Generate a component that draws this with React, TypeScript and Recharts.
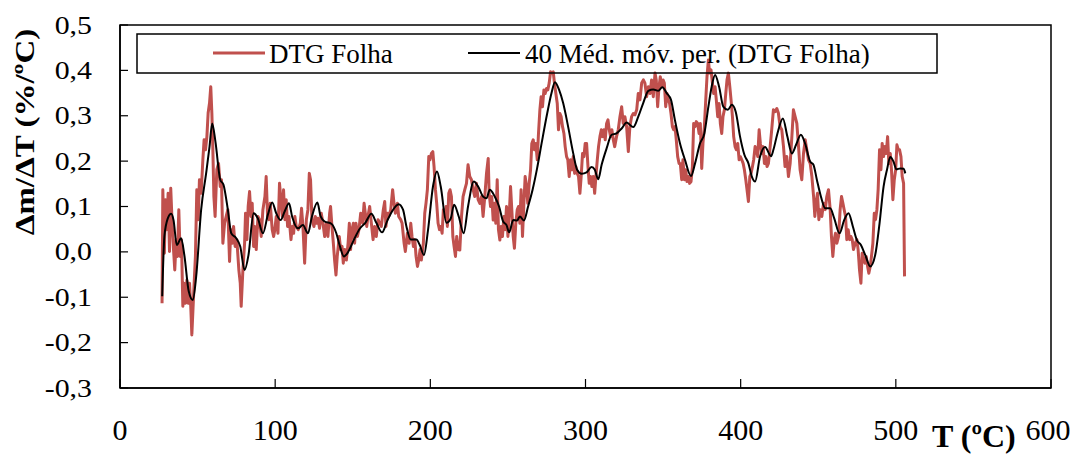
import React from 'react';
import { LineChart, Line, XAxis, YAxis, ReferenceArea } from 'recharts';

// Axis ticks
const xTicks = [0, 100, 200, 300, 400, 500, 600];
const yTicks = [-0.3, -0.2, -0.1, 0, 0.1, 0.2, 0.3, 0.4, 0.5];

// Series names
const seriesNames = ['DTG Folha', '40 Méd. móv. per. (DTG Folha)'];

// DTG of the leaf sample: [T (ºC), Δm/ΔT (%/ºC)]
const dtgFolha: number[][] = [
  [27.1, -0.113], [27.6, 0.137], [28.6, -0.003], [29.3, 0.115], [30.2, 0.049], [31.0, 0.129],
  [31.9, 0.001], [32.7, 0.14], [33.6, 0.063], [34.5, 0.005], [35.3, -0.04], [36.2, 0.027],
  [37.0, -0.01], [37.9, 0.093], [38.8, -0.01], [39.6, 0.027], [40.5, -0.12], [41.3, -0.069],
  [42.2, -0.113], [43.1, -0.062], [43.9, -0.113], [44.8, -0.069], [45.6, -0.12], [46.3, -0.183],
  [47.4, -0.098], [48.6, -0.01], [49.5, 0.137], [50.4, 0.071], [51.2, 0.159], [52.3, 0.129],
  [53.4, 0.203], [54.2, 0.247], [55.1, 0.225], [56.0, 0.254], [56.8, 0.306], [57.7, 0.328],
  [58.5, 0.364], [59.2, 0.306], [59.8, 0.232], [60.5, 0.122], [61.3, 0.078], [62.4, 0.181],
  [63.5, 0.195], [64.6, 0.144], [65.4, 0.159], [66.3, 0.019], [67.4, 0.063], [68.4, 0.078],
  [69.5, 0.093], [70.6, -0.021], [71.4, 0.049], [72.3, 0.019], [73.2, 0.056], [74.2, 0.012],
  [75.3, 0.027], [76.6, -0.04], [77.5, -0.069], [78.1, -0.12], [79.2, -0.04], [80.3, 0.019],
  [80.9, 0.085], [81.8, 0.027], [82.6, 0.1], [83.5, 0.133], [84.4, 0.078], [85.2, 0.107],
  [86.1, 0.012], [86.9, 0.056], [87.8, 0.005], [88.9, 0.078], [89.9, 0.071], [91.0, 0.034],
  [92.1, 0.093], [93.4, 0.122], [94.2, 0.166], [95.1, 0.078], [96.0, 0.071], [96.8, 0.107],
  [98.1, 0.049], [99.0, 0.034], [99.8, 0.049], [100.7, 0.078], [101.8, 0.041], [102.8, 0.151],
  [103.7, 0.115], [104.6, 0.078], [105.4, 0.137], [106.3, 0.071], [107.1, 0.115], [108.0, 0.056],
  [108.9, 0.078], [110.2, 0.027], [111.0, 0.056], [111.9, 0.041], [112.7, 0.078], [113.6, 0.056],
  [114.9, 0.049], [116.2, 0.063], [117.0, 0.096], [117.9, 0.056], [119.0, -0.025], [120.1, 0.071],
  [121.1, 0.093], [122.0, 0.173], [122.8, 0.159], [123.7, 0.071], [125.0, 0.056], [125.9, 0.078],
  [126.7, 0.063], [127.6, 0.074], [128.6, 0.052], [129.7, 0.085], [130.8, 0.063], [131.9, 0.034],
  [133.0, 0.063], [134.0, 0.034], [135.1, 0.085], [135.7, 0.1], [136.6, 0.056], [137.5, 0.019],
  [138.3, -0.018], [139.2, -0.051], [140.0, -0.01], [141.3, 0.034], [142.2, 0.005], [143.1, 0.012],
  [143.9, -0.025], [144.8, 0.005], [145.9, -0.018], [147.0, 0.019], [147.8, 0.063], [148.6, 0.005],
  [149.5, 0.049], [150.4, 0.063], [151.2, 0.019], [152.1, 0.063], [153.0, 0.034], [154.0, 0.049],
  [155.1, 0.085], [156.4, 0.063], [157.3, 0.107], [158.1, 0.085], [159.0, 0.056], [159.8, 0.078],
  [160.9, 0.1], [162.0, 0.063], [163.1, 0.027], [164.1, 0.056], [165.2, 0.034], [166.3, 0.071],
  [167.4, 0.063], [168.4, 0.056], [169.7, 0.093], [170.6, 0.111], [171.4, 0.056], [172.3, 0.085],
  [173.2, 0.078], [174.5, 0.093], [175.7, 0.137], [176.6, 0.107], [177.5, 0.085], [178.8, 0.107],
  [179.6, 0.078], [180.9, 0.071], [181.8, 0.063], [183.1, 0.019], [183.9, 0.001], [185.2, 0.041],
  [186.3, 0.019], [187.4, 0.063], [188.2, 0.034], [189.1, 0.012], [190.0, 0.027], [190.8, -0.01],
  [191.7, -0.032], [192.5, -0.018], [193.4, 0.005], [194.2, -0.018], [195.5, 0.019], [196.4, 0.085],
  [197.2, 0.107], [198.1, 0.137], [199.0, 0.21], [199.8, 0.203], [200.7, 0.217], [201.6, 0.221],
  [202.4, 0.188], [203.3, 0.137], [204.1, 0.107], [205.0, 0.063], [205.9, 0.049], [206.7, 0.056],
  [207.6, 0.041], [208.4, 0.093], [209.3, 0.078], [210.2, 0.1], [211.0, 0.056], [211.9, 0.129],
  [212.7, 0.137], [213.6, 0.122], [214.5, 0.034], [215.3, 0.012], [216.2, -0.01], [217.0, 0.034],
  [217.9, 0.005], [219.0, 0.004], [220.1, 0.078], [221.1, 0.122], [222.2, 0.137], [223.3, 0.151],
  [224.3, 0.192], [225.4, 0.166], [226.5, 0.159], [227.6, 0.137], [228.6, 0.122], [229.7, 0.151],
  [230.8, 0.115], [231.9, 0.107], [233.0, 0.122], [234.0, 0.078], [235.1, 0.122], [236.2, 0.173],
  [237.3, 0.206], [237.9, 0.129], [238.8, 0.1], [239.6, 0.122], [240.5, 0.07], [241.3, 0.107],
  [242.2, 0.063], [243.1, 0.159], [243.9, 0.049], [244.8, 0.026], [245.6, 0.056], [246.5, 0.034],
  [247.4, 0.078], [248.2, 0.049], [249.1, 0.1], [250.0, 0.034], [250.8, 0.078], [251.7, 0.144],
  [252.5, 0.093], [253.4, 0.034], [254.2, 0.008], [255.1, 0.063], [256.0, 0.093], [256.8, 0.1],
  [257.7, 0.063], [258.5, 0.137], [259.4, 0.034], [260.3, 0.107], [261.1, 0.166], [262.0, 0.144],
  [262.8, 0.107], [263.7, 0.151], [264.6, 0.181], [265.4, 0.239], [266.3, 0.247], [267.1, 0.225],
  [268.0, 0.239], [268.9, 0.203], [269.7, 0.261], [270.6, 0.313], [271.4, 0.342], [272.3, 0.32],
  [273.2, 0.357], [274.0, 0.349], [274.9, 0.36], [275.7, 0.357], [276.6, 0.372], [277.5, 0.397],
  [278.3, 0.394], [279.2, 0.397], [280.0, 0.372], [280.9, 0.349], [281.8, 0.327], [282.6, 0.269],
  [283.5, 0.305], [284.3, 0.298], [285.2, 0.276], [286.1, 0.261], [286.9, 0.232], [287.8, 0.21],
  [288.6, 0.203], [289.5, 0.166], [290.4, 0.203], [291.2, 0.181], [292.1, 0.21], [293.0, 0.173],
  [293.8, 0.188], [294.7, 0.173], [295.5, 0.166], [296.4, 0.129], [297.2, 0.166], [298.1, 0.217],
  [299.0, 0.21], [299.8, 0.239], [300.7, 0.239], [301.6, 0.188], [302.4, 0.151], [303.3, 0.166],
  [304.1, 0.144], [305.0, 0.166], [305.9, 0.129], [306.7, 0.166], [307.6, 0.203], [308.4, 0.232],
  [309.3, 0.254], [310.2, 0.269], [311.0, 0.254], [311.9, 0.269], [312.7, 0.247], [313.6, 0.283],
  [314.5, 0.291], [315.3, 0.269], [316.2, 0.254], [317.0, 0.269], [317.9, 0.247], [318.8, 0.232],
  [320.0, 0.254], [321.1, 0.269], [322.2, 0.298], [323.3, 0.32], [324.3, 0.283], [325.4, 0.298],
  [326.5, 0.276], [327.6, 0.221], [328.6, 0.276], [329.7, 0.298], [330.8, 0.305], [331.9, 0.302],
  [333.0, 0.313], [334.0, 0.349], [335.1, 0.335], [336.2, 0.372], [337.3, 0.379], [338.3, 0.372],
  [339.4, 0.342], [340.5, 0.364], [341.6, 0.349], [342.6, 0.379], [343.7, 0.342], [344.8, 0.394],
  [345.6, 0.379], [346.5, 0.32], [347.4, 0.364], [348.2, 0.386], [349.1, 0.364], [350.0, 0.379],
  [350.8, 0.372], [351.7, 0.32], [352.5, 0.349], [353.4, 0.335], [354.2, 0.327], [355.1, 0.305],
  [356.0, 0.276], [356.8, 0.269], [357.7, 0.276], [358.5, 0.247], [359.4, 0.21], [360.3, 0.195],
  [361.1, 0.195], [362.0, 0.159], [362.8, 0.203], [363.7, 0.159], [364.6, 0.181], [365.4, 0.155],
  [366.3, 0.166], [367.1, 0.151], [368.0, 0.155], [368.9, 0.188], [369.7, 0.283], [370.6, 0.276],
  [371.4, 0.287], [372.3, 0.283], [373.2, 0.261], [374.0, 0.283], [374.9, 0.184], [375.7, 0.239],
  [376.6, 0.276], [377.5, 0.335], [378.3, 0.386], [379.2, 0.423], [380.0, 0.394], [380.9, 0.401],
  [381.8, 0.372], [382.6, 0.349], [383.5, 0.364], [384.3, 0.335], [385.2, 0.298], [386.1, 0.327],
  [386.9, 0.283], [387.8, 0.261], [388.6, 0.298], [389.5, 0.313], [390.4, 0.349], [391.2, 0.379],
  [392.1, 0.394], [393.0, 0.364], [393.8, 0.335], [394.7, 0.298], [395.5, 0.254], [396.4, 0.232],
  [397.2, 0.225], [398.1, 0.239], [399.0, 0.203], [399.8, 0.21], [400.7, 0.203], [401.6, 0.195],
  [402.4, 0.181], [403.3, 0.159], [404.1, 0.137], [405.0, 0.111], [405.9, 0.166], [406.7, 0.173],
  [407.6, 0.188], [408.4, 0.203], [409.3, 0.232], [410.2, 0.225], [411.0, 0.21], [411.9, 0.269],
  [412.7, 0.239], [413.6, 0.217], [414.5, 0.232], [415.3, 0.195], [416.2, 0.21], [417.0, 0.188],
  [417.9, 0.195], [418.8, 0.225], [420.0, 0.269], [421.1, 0.313], [422.2, 0.309], [423.3, 0.316],
  [424.3, 0.306], [425.4, 0.276], [426.5, 0.269], [427.6, 0.232], [428.6, 0.188], [429.7, 0.21],
  [430.8, 0.166], [431.9, 0.195], [433.0, 0.254], [434.0, 0.313], [435.1, 0.298], [436.2, 0.283],
  [437.3, 0.232], [438.3, 0.181], [439.4, 0.159], [440.5, 0.217], [441.6, 0.247], [442.6, 0.225],
  [443.7, 0.203], [444.8, 0.195], [445.9, 0.166], [447.0, 0.122], [447.8, 0.078], [448.6, 0.107],
  [449.5, 0.129], [450.4, 0.071], [451.2, 0.093], [452.3, 0.078], [453.4, 0.107], [454.5, 0.093],
  [455.5, 0.122], [456.6, 0.137], [457.7, 0.093], [458.5, 0.034], [459.4, -0.01], [460.3, 0.027],
  [461.1, 0.041], [462.0, 0.019], [463.1, 0.034], [464.1, 0.093], [465.0, 0.122], [465.9, 0.107],
  [466.7, 0.093], [467.6, 0.078], [468.4, 0.027], [469.3, 0.049], [470.2, 0.027], [471.0, 0.034],
  [471.9, 0.027], [472.7, 0.005], [473.8, 0.019], [474.9, 0.027], [475.7, 0.005], [476.6, -0.04],
  [477.5, -0.069], [478.3, -0.003], [479.2, -0.018], [480.1, -0.025], [480.9, -0.01], [481.8, -0.032],
  [482.6, -0.047], [483.5, -0.032], [484.3, -0.01], [485.2, 0.019], [486.1, 0.085], [486.9, 0.071],
  [487.8, 0.093], [488.6, 0.137], [489.5, 0.225], [490.4, 0.181], [491.2, 0.239], [492.1, 0.21],
  [493.0, 0.232], [493.8, 0.217], [494.7, 0.254], [495.5, 0.195], [496.4, 0.217], [497.2, 0.181],
  [498.1, 0.115], [499.0, 0.159], [499.9, 0.181], [500.7, 0.236], [501.6, 0.225], [502.4, 0.225],
  [503.3, 0.21], [504.1, 0.166], [505.0, 0.151], [505.6, -0.054],
];

// 40-period moving average of the DTG curve: [T (ºC), Δm/ΔT (%/ºC)]
const mediaMovel: number[][] = [
  [27.2, -0.098], [28.6, 0.034], [30.8, 0.074], [33.0, 0.084], [34.5, 0.07], [36.6, 0.015],
  [39.4, 0.03], [41.5, -0.008], [44.3, -0.087], [46.9, -0.106], [49.1, -0.054], [52.3, 0.093],
  [55.5, 0.173], [57.7, 0.232], [59.4, 0.283], [61.5, 0.243], [64.6, 0.159], [66.7, 0.148],
  [69.5, 0.093], [71.7, 0.041], [74.9, 0.03], [77.5, 0.012], [80.3, -0.04], [82.8, -0.007],
  [86.1, 0.085], [88.8, 0.074], [92.1, 0.041], [95.3, 0.082], [98.1, 0.109], [100.7, 0.085],
  [103.5, 0.07], [106.1, 0.089], [108.9, 0.107], [111.0, 0.077], [114.7, 0.052], [117.9, 0.059],
  [121.1, 0.041], [123.7, 0.078], [127.2, 0.109], [129.3, 0.078], [131.9, 0.067], [136.2, 0.062],
  [139.4, 0.041], [141.5, 0.015], [144.3, -0.01], [146.9, -0.001], [150.8, 0.027], [154.5, 0.051],
  [158.1, 0.064], [162.0, 0.084], [165.2, 0.064], [168.9, 0.043], [172.3, 0.069], [175.3, 0.089],
  [179.6, 0.105], [182.4, 0.093], [184.6, 0.056], [187.4, 0.027], [191.0, 0.027], [193.2, 0.015],
  [195.9, -0.007], [198.5, 0.048], [201.7, 0.144], [204.3, 0.177], [206.7, 0.144], [210.4, 0.064],
  [213.2, 0.074], [215.3, 0.104], [218.3, 0.078], [221.5, 0.041], [224.3, 0.1], [228.0, 0.155],
  [230.8, 0.144], [234.0, 0.122], [236.2, 0.118], [238.3, 0.137], [241.5, 0.122], [244.3, 0.1],
  [246.9, 0.067], [249.1, 0.059], [250.8, 0.043], [253.4, 0.07], [255.9, 0.069], [257.7, 0.078],
  [260.3, 0.069], [263.0, 0.1], [265.9, 0.137], [268.8, 0.184], [271.7, 0.239], [275.3, 0.305],
  [278.1, 0.35], [280.3, 0.374], [283.0, 0.357], [285.6, 0.328], [288.8, 0.276], [292.1, 0.217],
  [294.6, 0.181], [297.5, 0.172], [300.7, 0.175], [303.9, 0.187], [306.0, 0.181], [308.2, 0.16],
  [310.4, 0.192], [313.6, 0.228], [316.8, 0.258], [320.0, 0.261], [323.3, 0.272], [326.5, 0.285],
  [330.8, 0.275], [334.0, 0.298], [337.2, 0.328], [340.5, 0.355], [343.7, 0.358], [346.9, 0.355],
  [349.5, 0.363], [352.3, 0.35], [355.1, 0.335], [357.6, 0.291], [360.9, 0.239], [364.1, 0.203],
  [368.0, 0.167], [370.6, 0.195], [373.8, 0.239], [376.6, 0.261], [379.2, 0.32], [381.3, 0.364],
  [383.5, 0.39], [386.1, 0.364], [388.8, 0.32], [391.7, 0.313], [394.3, 0.324], [396.8, 0.309],
  [399.6, 0.254], [402.4, 0.214], [405.0, 0.195], [407.2, 0.166], [409.3, 0.155], [412.5, 0.21],
  [415.7, 0.231], [419.6, 0.211], [421.1, 0.225], [423.7, 0.261], [427.2, 0.294], [430.1, 0.254],
  [433.0, 0.217], [435.7, 0.236], [438.8, 0.258], [441.5, 0.239], [444.8, 0.199], [446.9, 0.192],
  [449.1, 0.159], [451.7, 0.122], [454.5, 0.096], [457.7, 0.096], [460.3, 0.074], [463.7, 0.041],
  [466.7, 0.07], [469.5, 0.085], [472.3, 0.056], [474.9, 0.026], [477.5, 0.015], [480.3, -0.007],
  [483.5, -0.032], [486.7, -0.007], [489.5, 0.063], [492.1, 0.144], [494.3, 0.181], [496.4, 0.209],
  [498.5, 0.199], [500.3, 0.182], [502.8, 0.184], [505.0, 0.183], [506.1, 0.173],
];

const dtgData = dtgFolha.map(([t, v]) => ({ t, v }));
const mmData = mediaMovel.map(([t, v]) => ({ t, v }));

const FONT = '"Liberation Serif", "Times New Roman", Times, serif';
const RED = '#C0504D';

const fmtY = (v: number) => v.toFixed(1).replace('.', ',');

const XTick = (props: any) => {
  const { x, y, payload } = props;
  // the last label sits a little inside the frame edge
  const shift = payload.value === 600 ? -3 : 0;
  return (
    <text x={x + shift} y={y} dy={61} textAnchor="middle" fontFamily={FONT} fontSize={30} fill="#000">
      {payload.value}
    </text>
  );
};

const YTick = (props: any) => {
  const { x, y, payload } = props;
  return (
    <g transform={`translate(${x - 36},${y}) scale(1.15,1)`}>
      <text x={0} y={0} dy={8.5} textAnchor="end" fontFamily={FONT} fontSize={26} fill="#000">
        {fmtY(payload.value)}
      </text>
    </g>
  );
};

export default function App() {
  return (
    <div style={{ position: 'absolute', left: 0, top: 0, width: 1072, height: 454, background: '#fff' }}>
      <LineChart width={1072} height={454} margin={{ top: 25, right: 21, bottom: 0, left: 0 }}>
        <XAxis
          dataKey="t"
          type="number"
          domain={[0, 600]}
          ticks={xTicks}
          allowDataOverflow
          height={66}
          tickSize={-9}
          tickMargin={0}
          tick={<XTick />}
          axisLine={{ stroke: '#000', strokeWidth: 1.5 }}
          tickLine={{ stroke: '#000', strokeWidth: 1.2 }}
        />
        <YAxis
          type="number"
          domain={[-0.3, 0.5]}
          ticks={yTicks}
          allowDataOverflow
          width={120}
          tickSize={-8}
          tickMargin={0}
          tick={<YTick />}
          axisLine={{ stroke: '#000', strokeWidth: 1.5 }}
          tickLine={{ stroke: '#000', strokeWidth: 1.2 }}
        />
        <ReferenceArea
          x1={0}
          x2={600}
          y1={-0.3}
          y2={0.5}
          fill="none"
          fillOpacity={0}
          stroke="#000"
          strokeWidth={1.5}
          ifOverflow="visible"
        />
        <Line
          data={dtgData}
          dataKey="v"
          name={seriesNames[0]}
          type="linear"
          stroke={RED}
          strokeWidth={3}
          dot={false}
          activeDot={false}
          isAnimationActive={false}
          strokeLinejoin="round"
        />
        <Line
          data={mmData}
          dataKey="v"
          name={seriesNames[1]}
          type="monotone"
          stroke="#000"
          strokeWidth={2}
          dot={false}
          activeDot={false}
          isAnimationActive={false}
        />
      </LineChart>
      <svg
        width={1072}
        height={454}
        style={{ position: 'absolute', left: 0, top: 0, pointerEvents: 'none' }}
      >
        <rect x={137} y={34} width={800} height={39} fill="none" stroke="#000" strokeWidth={1.5} />
        <line x1={213} y1={53} x2={265} y2={53} stroke={RED} strokeWidth={3} />
        <text x={269} y={63} fontFamily={FONT} fontSize={27} fill="#000">{seriesNames[0]}</text>
        <line x1={468} y1={53} x2={520} y2={53} stroke="#000" strokeWidth={2} />
        <text x={525} y={63} fontFamily={FONT} fontSize={27} fill="#000">{seriesNames[1]}</text>
        <text
          transform="translate(34,132) rotate(-90) scale(1.18,1)"
          textAnchor="middle"
          fontFamily={FONT}
          fontWeight="bold"
          fontSize={28}
          fill="#000"
        >
          Δm/ΔT (%/ºC)
        </text>
        <text x={932} y={447} fontFamily={FONT} fontWeight="bold" fontSize={32} fill="#000">
          T (ºC)
        </text>
      </svg>
    </div>
  );
}
